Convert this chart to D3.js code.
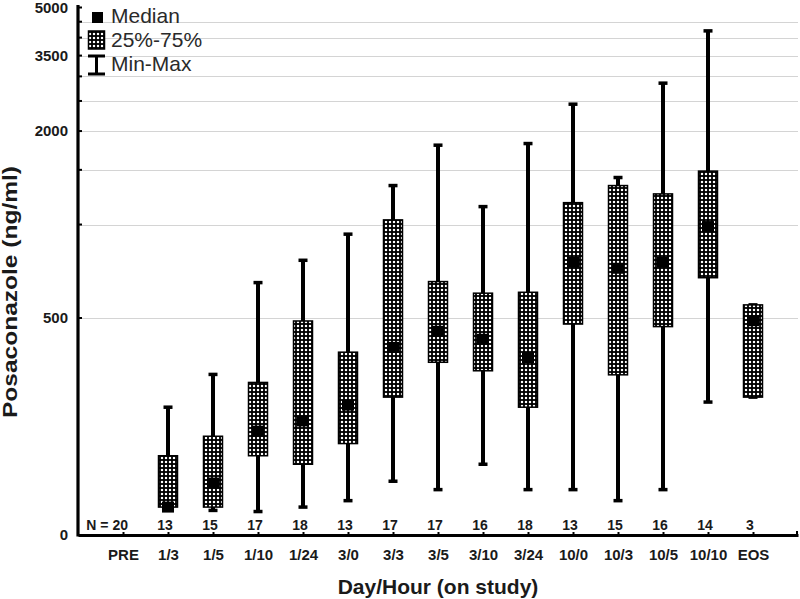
<!DOCTYPE html>
<html><head><meta charset="utf-8">
<script src="https://cdn.jsdelivr.net/npm/d3@7"></script>
<style>
body{margin:0;background:#fff}
svg{display:block}
text{font-family:Arial,"Liberation Sans",sans-serif}
</style>
</head><body>
<svg id="chart" width="800" height="599"></svg>
<script>
const categories = ["PRE","1/3","1/5","1/10","1/24","3/0","3/3","3/5","3/10","3/24","10/0","10/3","10/5","10/10","EOS"];
const nValues = [20,13,15,17,18,13,17,17,16,18,13,15,16,14,3];
const minValues    = [null,121,120,119,123,129,149,140,169,140,140,129,140,268,278];
const q1Values     = [null,123,123,180,169,197,278,360,338,258,478,328,469,674,278];
const medianValues = [null,123,147,216,233,262,402,453,427,373,756,723,756,985,490];
const q3Values     = [null,180,208,310,489,388,1035,655,601,605,1176,1335,1255,1486,551];
const maxValues    = [null,258,329,650,767,931,1335,1801,1142,1823,2441,1417,2853,4204,551];
const yTickValues = [100,500,2000,3500,5000];
const yTickLabels = ["0","500","2000","3500","5000"];
const gridValues = [500,1000,1500,2000,2500,3000,3500,4000,4500];
const minorTickValues = [500,1000,1500,2000,2500,3000,3500,4000,4500,5000];
const legendLabels = ["Median","25%-75%","Min-Max"];

const svg = d3.select("#chart");
const x = d3.scalePoint().domain(categories).range([78,798]).padding(1);
const y = d3.scaleLog().domain([100,5000]).range([535,7.5]);

const defs = svg.append("defs");
const pat = defs.append("pattern").attr("id","dots").attr("patternUnits","userSpaceOnUse")
  .attr("width",4).attr("height",4);
pat.append("rect").attr("width",4).attr("height",4).attr("fill","#000");
pat.append("rect").attr("x",1).attr("y",1).attr("width",2).attr("height",2).attr("fill","#fff");
pat.append("rect").attr("x",1.5).attr("y",0.5).attr("width",1).attr("height",3).attr("fill","#fff").attr("opacity",0.35);
pat.append("rect").attr("x",0.5).attr("y",1.5).attr("width",3).attr("height",1).attr("fill","#fff").attr("opacity",0.35);

// gridlines
svg.append("g").selectAll("line").data(gridValues).join("line")
  .attr("x1",78).attr("x2",798)
  .attr("y1",d=>Math.round(y(d))+0.5).attr("y2",d=>Math.round(y(d))+0.5)
  .attr("stroke","#d4d4d4").attr("stroke-width",1.2);

const data = categories.map((c,i)=>({c,n:nValues[i],min:minValues[i],q1:q1Values[i],med:medianValues[i],q3:q3Values[i],max:maxValues[i]}))
  .filter(d=>d.med!=null);

const bw = 19, cw = 9, ch = 3.5;
const g = svg.append("g");
// whiskers
g.selectAll("line.w").data(data).join("line").attr("class","w")
  .attr("x1",d=>x(d.c)).attr("x2",d=>x(d.c))
  .attr("y1",d=>y(d.max)).attr("y2",d=>y(d.min))
  .attr("stroke","#000").attr("stroke-width",4);
g.selectAll("rect.ct").data(data).join("rect").attr("class","ct")
  .attr("x",d=>x(d.c)-cw/2).attr("y",d=>y(d.max)-ch/2).attr("width",cw).attr("height",ch).attr("fill","#000");
g.selectAll("rect.cb").data(data).join("rect").attr("class","cb")
  .attr("x",d=>x(d.c)-cw/2).attr("y",d=>y(d.min)-ch/2).attr("width",cw).attr("height",ch).attr("fill","#000");
// boxes
g.selectAll("rect.b").data(data).join("rect").attr("class","b")
  .attr("x",d=>x(d.c)-bw/2).attr("y",d=>y(d.q3)).attr("width",bw)
  .attr("height",d=>y(d.q1)-y(d.q3))
  .attr("fill","url(#dots)").attr("stroke","#000").attr("stroke-width",1.5);
// medians
g.selectAll("rect.m").data(data).join("rect").attr("class","m")
  .attr("x",d=>x(d.c)-6).attr("y",d=>y(d.med)-5.5).attr("width",12).attr("height",11).attr("fill","#000");

// y axis
const yAxis = d3.axisLeft(y).tickValues(yTickValues).tickFormat((d,i)=>yTickLabels[i])
  .tickSize(0).tickSizeOuter(0).tickPadding(10);
const ya = svg.append("g").attr("transform","translate(78,0)").call(yAxis);
ya.select(".domain").remove();
ya.selectAll("text").attr("font-size",15).attr("font-weight","bold").attr("fill","#1a1a1a")
  .style("font-family","Arial, 'Liberation Sans', sans-serif");
svg.append("g").selectAll("line").data(minorTickValues).join("line")
  .attr("x1",78).attr("x2",82).attr("y1",d=>y(d)).attr("y2",d=>y(d))
  .attr("stroke","#000").attr("stroke-width",2);
svg.append("line").attr("x1",78).attr("x2",78).attr("y1",5).attr("y2",536.5)
  .attr("stroke","#000").attr("stroke-width",3.2);

// x axis
const xAxis = d3.axisBottom(x).tickSize(-3).tickSizeOuter(0).tickPadding(14);
const xa = svg.append("g").attr("transform","translate(0,535)").call(xAxis);
xa.select(".domain").attr("stroke","#000").attr("stroke-width",3);
xa.selectAll(".tick line").attr("stroke","#000").attr("stroke-width",2);
xa.selectAll("text").attr("font-size",15).attr("font-weight","bold").attr("fill","#1a1a1a")
  .style("font-family","Arial, 'Liberation Sans', sans-serif");
svg.append("line").attr("x1",797).attr("x2",797).attr("y1",531).attr("y2",535).attr("stroke","#000").attr("stroke-width",2);

// N labels
svg.append("g").selectAll("text").data(categories).join("text")
  .attr("x",(d,i)=> i===0 ? x(d)+5 : x(d)-3)
  .attr("y",530)
  .attr("text-anchor",(d,i)=> i===0 ? "end" : "middle")
  .attr("font-size",14).attr("font-weight","bold").attr("fill","#1a1a1a")
  .text((d,i)=> i===0 ? "N = " + nValues[i] : nValues[i]);

// titles
svg.append("text").attr("x",438).attr("y",594).attr("text-anchor","middle")
  .attr("font-size",21).attr("font-weight","bold").attr("fill","#1a1a1a")
  .text("Day/Hour (on study)");
svg.append("text").attr("transform","translate(17,292) rotate(-90)").attr("text-anchor","middle")
  .attr("font-size",20).attr("font-weight","bold").attr("fill","#1a1a1a")
  .attr("textLength",252).attr("lengthAdjust","spacingAndGlyphs")
  .text("Posaconazole (ng/ml)");

// legend
const lg = svg.append("g");
lg.append("rect").attr("x",92).attr("y",12).attr("width",11).attr("height",11).attr("fill","#000");
lg.append("rect").attr("x",88.5).attr("y",31).attr("width",16).attr("height",18)
  .attr("fill","url(#dots)").attr("stroke","#000").attr("stroke-width",1.5);
lg.append("line").attr("x1",96.5).attr("x2",96.5).attr("y1",56).attr("y2",74).attr("stroke","#000").attr("stroke-width",3);
lg.append("rect").attr("x",88).attr("y",54.5).attr("width",17).attr("height",3).attr("fill","#000");
lg.append("rect").attr("x",88).attr("y",72.5).attr("width",17).attr("height",3).attr("fill","#000");
lg.selectAll("text").data(legendLabels).join("text")
  .attr("x",111).attr("y",(d,i)=>[15.5,39.5,63.5][i]).attr("dy","0.36em")
  .attr("font-size",21).attr("fill","#2a2a2a").text(d=>d);
</script>
</body></html>
